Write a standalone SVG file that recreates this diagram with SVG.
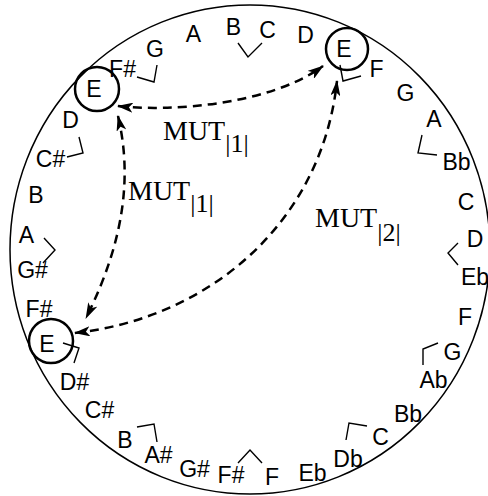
<svg xmlns="http://www.w3.org/2000/svg" width="488" height="496" viewBox="0 0 488 496">
<style>
.n{font-family:"Liberation Sans",Arial,sans-serif;font-size:23px;fill:#000;text-anchor:middle}
.m{font-family:"Liberation Serif","Times New Roman",serif;font-size:28px;fill:#000}
.s{font-size:26px}
.br{fill:none;stroke:#000;stroke-width:1.4}
.ring{fill:none;stroke:#000;stroke-width:2.5}
.arr{fill:none;stroke:#000;stroke-width:2.5;stroke-dasharray:9 6;marker-start:url(#ah);marker-end:url(#ah)}
</style>
<defs>
<marker id="ah" viewBox="0 0 16 10" refX="15" refY="5" markerWidth="16" markerHeight="10" markerUnits="userSpaceOnUse" orient="auto-start-reverse">
<path d="M0,0 L16,5 L0,10 L4,5 Z" fill="#000"/>
</marker>
</defs>
<rect width="488" height="496" fill="#fff"/>
<ellipse id="outer" cx="250" cy="249.5" rx="240" ry="244.5" fill="none" stroke="#000" stroke-width="1.5"/>
<g id="notes">
<text class="n" x="122.5" y="77">F#</text>
<text class="n" x="155" y="57">G</text>
<text class="n" x="193.5" y="42">A</text>
<text class="n" x="233.5" y="35">B</text>
<text class="n" x="267.5" y="38">C</text>
<text class="n" x="305.5" y="43">D</text>
<text class="n" x="376.5" y="77">F</text>
<text class="n" x="405.5" y="101">G</text>
<text class="n" x="434" y="127">A</text>
<text class="n" x="456.5" y="170">Bb</text>
<text class="n" x="466" y="210">C</text>
<text class="n" x="475" y="247">D</text>
<text class="n" x="475" y="285">Eb</text>
<text class="n" x="465" y="325">F</text>
<text class="n" x="452.5" y="360">G</text>
<text class="n" x="433.5" y="388">Ab</text>
<text class="n" x="408" y="422">Bb</text>
<text class="n" x="380.5" y="445">C</text>
<text class="n" x="348" y="467">Db</text>
<text class="n" x="312.5" y="481">Eb</text>
<text class="n" x="272" y="485">F</text>
<text class="n" x="231" y="483">F#</text>
<text class="n" x="194.5" y="477">G#</text>
<text class="n" x="158.5" y="463">A#</text>
<text class="n" x="125" y="448">B</text>
<text class="n" x="99.5" y="418">C#</text>
<text class="n" x="74.5" y="390">D#</text>
<text class="n" x="39" y="317">F#</text>
<text class="n" x="32.5" y="278">G#</text>
<text class="n" x="26.5" y="243">A</text>
<text class="n" x="36" y="203">B</text>
<text class="n" x="50.5" y="167">C#</text>
<text class="n" x="70.5" y="128">D</text>
</g>
<g id="brackets">
<polyline class="br" points="137,77 154,82 157,65"/>
<polyline class="br" points="238,43 248,57 262,43"/>
<polyline class="br" points="340,65 343,81 361,76"/>
<polyline class="br" points="422,135 418,153 437,155"/>
<polyline class="br" points="458,243 448,253 458,265"/>
<polyline class="br" points="423,365 423,349 438,343"/>
<polyline class="br" points="346,440 349,423 367,426"/>
<polyline class="br" points="238,463 250,450 262,463"/>
<polyline class="br" points="137,427 154,424 157,442"/>
<polyline class="br" points="63,343 79,348 74,363"/>
<polyline class="br" points="79,137 83,153 67,157"/>
<polyline class="br" points="44,238 55,250 43,263"/>
</g>
<g id="node-e-topleft">
<circle class="ring" cx="97" cy="89" r="22"/>
<text class="n" x="94" y="97">E</text>
</g>
<g id="node-e-topright">
<circle class="ring" cx="347" cy="49" r="21"/>
<text class="n" x="344" y="57">E</text>
</g>
<g id="node-e-bottomleft">
<circle class="ring" cx="51" cy="341" r="22"/>
<text class="n" x="47" y="352">E</text>
</g>
<g id="connectors">
<path class="arr" d="M118,106 C170,112 270,105 323,66"/>
<path class="arr" d="M118,116 C132,175 125,240 86,318"/>
<path class="arr" d="M75,333 C210,318 322,222 337,81"/>
</g>
<g id="labels">
<text class="m" x="163" y="140">MUT<tspan class="s" dy="12">|1|</tspan></text>
<text class="m" x="128" y="200">MUT<tspan class="s" dy="12">|1|</tspan></text>
<text class="m" x="315" y="227">MUT<tspan class="s" dy="14">|2|</tspan></text>
</g>
</svg>
